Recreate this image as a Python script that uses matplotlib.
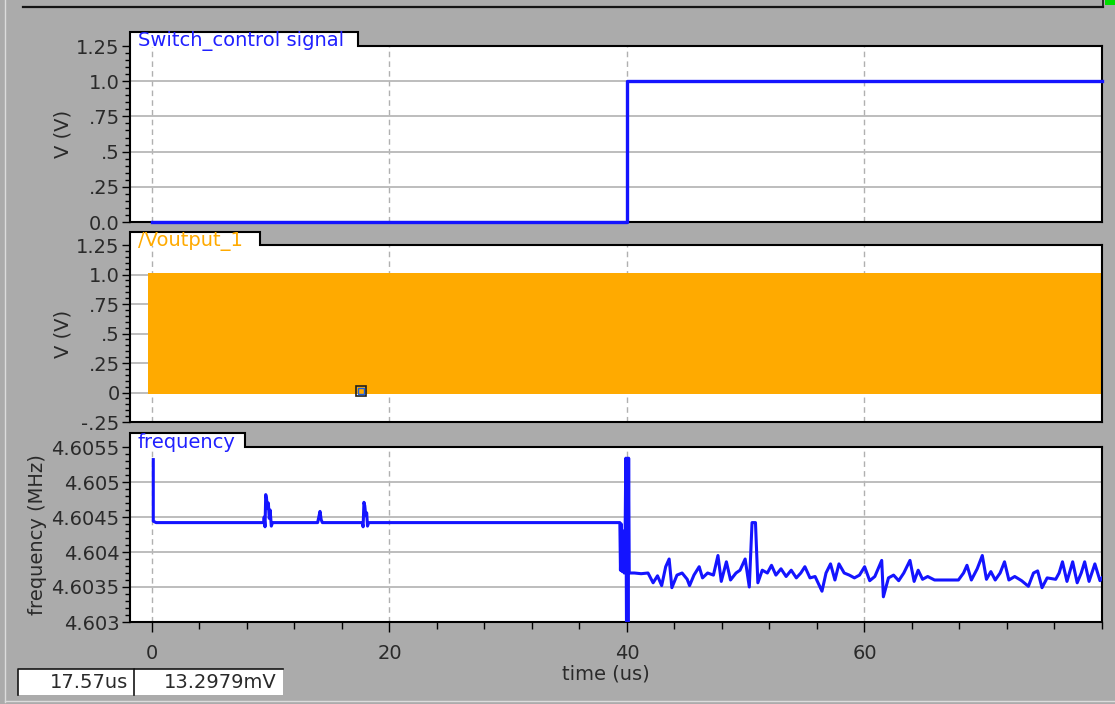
import matplotlib
matplotlib.use('Agg')
import matplotlib.pyplot as plt
from matplotlib.patches import Rectangle
from matplotlib.lines import Line2D
from matplotlib.ticker import MultipleLocator

W, H = 1115, 704

# Switch_control signal (V) vs time (us)
switch_t = [0.0, 40.0, 40.0, 80.0]
switch_v = [0.0, 0.0, 1.0, 1.0]

# /Voutput_1 : square wave too dense to resolve, drawn as its envelope
vout_t = [-0.3, 80.0]
vout_high = [1.015, 1.015]
vout_low = [-0.015, -0.015]

# cursor readout
cursor_t = 17.57
cursor_v = 0.0132979
cursor_labels = ['17.57us', '13.2979mV']

# frequency (MHz) vs time (us)
freq_t = [0.11, 0.11, 0.35, 9.40, 9.45, 9.52, 9.58, 9.65, 9.72, 9.80, 9.88, 9.95, 10.05, 10.15,
          13.95, 14.05, 14.15, 14.25, 14.35, 17.70, 17.78, 17.85, 17.92, 18.00, 18.08, 18.15, 18.25,
          39.40, 39.45, 39.52, 39.60, 39.68, 39.76, 39.84, 39.90, 39.96, 40.02, 40.08, 40.14,
          40.19, 40.62, 41.19, 41.77, 42.20, 42.57, 42.92, 43.26, 43.55, 43.78, 44.21, 44.64,
          45.07, 45.27, 45.64, 46.08, 46.36, 46.79, 47.28, 47.66, 47.94, 48.37, 48.72, 49.18,
          49.52, 49.95, 50.30, 50.53, 50.82, 51.02, 51.39, 51.82, 52.17, 52.54, 52.97, 53.40,
          53.83, 54.26, 54.64, 54.98, 55.41, 55.84, 56.42, 56.76, 57.14, 57.51, 57.85, 58.29,
          58.72, 59.15, 59.58, 60.01, 60.44, 60.87, 61.45, 61.59, 62.02, 62.45, 62.88, 63.31,
          63.83, 64.18, 64.52, 64.89, 65.32, 65.90, 67.91, 68.34, 68.63, 69.00, 69.49, 69.92,
          70.27, 70.64, 71.01, 71.42, 71.79, 72.16, 72.65, 73.23, 73.80, 74.23, 74.58, 74.95,
          75.38, 76.10, 76.39, 76.67, 77.05, 77.53, 77.91, 78.25, 78.54, 78.91, 79.40, 79.83, 80.00]
freq_mhz = [4.60532, 4.60444, 4.60442, 4.60442, 4.60450, 4.60436, 4.60482, 4.60476, 4.60462,
            4.60470, 4.60448, 4.60460, 4.60437, 4.60442,
            4.60442, 4.60450, 4.60458, 4.60446, 4.60442, 4.60442, 4.60436, 4.60471, 4.60466,
            4.60452, 4.60456, 4.60437, 4.60442,
            4.60442, 4.60374, 4.60440, 4.60372, 4.60430, 4.60370, 4.60420, 4.60534, 4.60290,
            4.60534, 4.60290, 4.60534,
            4.60370, 4.60370, 4.60369, 4.60370, 4.60356, 4.60366, 4.60352, 4.60379, 4.60390,
            4.60349, 4.60367, 4.60370, 4.60361, 4.60352, 4.60367, 4.60379, 4.60363, 4.60370,
            4.60367, 4.60395, 4.60358, 4.60386, 4.60360, 4.60370, 4.60374, 4.60390, 4.60350,
            4.60442, 4.60442, 4.60356, 4.60374, 4.60370, 4.60381, 4.60367, 4.60376, 4.60365,
            4.60374, 4.60363, 4.60370, 4.60379, 4.60363, 4.60365, 4.60344, 4.60370, 4.60383,
            4.60360, 4.60383, 4.60370, 4.60367, 4.60363, 4.60367, 4.60379, 4.60359, 4.60365,
            4.60388, 4.60336, 4.60363, 4.60367, 4.60359, 4.60370, 4.60388, 4.60358, 4.60374,
            4.60361, 4.60365, 4.60360, 4.60360, 4.60370, 4.60381, 4.60360, 4.60376, 4.60395,
            4.60361, 4.60372, 4.60360, 4.60370, 4.60386, 4.60360, 4.60365, 4.60359, 4.60351,
            4.60370, 4.60373, 4.60349, 4.60363, 4.60361, 4.60370, 4.60386, 4.60358, 4.60386,
            4.60356, 4.60370, 4.60386, 4.60358, 4.60383, 4.60359, 4.60363]

ticks1 = [0.0, 0.25, 0.5, 0.75, 1.0, 1.25]
ticklabels1 = ['0.0', '.25', '.5', '.75', '1.0', '1.25']
ticks2 = [-0.25, 0.0, 0.25, 0.5, 0.75, 1.0, 1.25]
ticklabels2 = ['-.25', '0', '.25', '.5', '.75', '1.0', '1.25']
ticks3 = [4.603, 4.6035, 4.604, 4.6045, 4.605, 4.6055]
ticklabels3 = ['4.603', '4.6035', '4.604', '4.6045', '4.605', '4.6055']

BG = '#ababab'
BLUE = '#1414ff'
ORANGE = '#ffaa00'
TXT = '#2a2a2a'
FS = 14

plt.rcParams['font.family'] = 'DejaVu Sans'
fig = plt.figure(figsize=(W / 100, H / 100), dpi=100, facecolor=BG)


def fx(x):
    return x / W


def fy(y):
    return 1 - y / H


def make_axes(top, bottom):
    ax = fig.add_axes([fx(130), fy(bottom), (1102 - 130) / W, (bottom - top) / H])
    ax.set_facecolor('white')
    ax.set_xlim(-1.85, 80)
    ax.xaxis.grid(True, ls=(0, (4, 3)), color='#b0b0b0', lw=1)
    ax.yaxis.grid(True, color='#b8b8b8', lw=1.3)
    ax.set_axisbelow(True)
    ax.set_xticks([0, 20, 40, 60])
    ax.tick_params(axis='y', which='major', direction='out', length=6, width=1,
                   labelsize=FS, labelcolor=TXT, pad=1.5)
    ax.tick_params(axis='y', which='minor', direction='out', length=3.5, width=1)
    ax.tick_params(axis='x', length=0, labelbottom=False)
    for s in ax.spines.values():
        s.set_linewidth(1.5)
    ax.spines['top'].set_visible(False)
    return ax


def add_tab(ax, top, bottom, tab_right, tab_h, text, color, text_dy):
    h = bottom - top
    tw = (tab_right - 130) / 972
    th = tab_h / h
    ax.add_patch(Rectangle((0, 0.995), tw, th + 0.005, transform=ax.transAxes,
                           facecolor='white', edgecolor='none', clip_on=False, zorder=5))
    ax.plot([0, 0, tw, tw, 1], [1, 1 + th, 1 + th, 1, 1], transform=ax.transAxes,
            color='black', lw=1.5, clip_on=False, zorder=6, solid_joinstyle='miter')
    ax.text(8 / 972, 1 + text_dy / h, text, transform=ax.transAxes, color=color,
            fontsize=FS, ha='left', va='center', zorder=7)


# panel 1
ax1 = make_axes(46, 222)
ax1.plot(switch_t, switch_v, color=BLUE, lw=2.4, clip_on=False, zorder=3)
ax1.set_ylim(0, 1.25)
ax1.set_yticks(ticks1, ticklabels1)
ax1.yaxis.set_minor_locator(MultipleLocator(0.05))
ax1.set_ylabel('V (V)', fontsize=FS, color=TXT)
ax1.yaxis.set_label_coords(-0.059, 0.5)
add_tab(ax1, 46, 222, 358, 14, 'Switch_control signal', '#2020ff', 5)

# panel 2
ax2 = make_axes(245, 422)
ax2.fill_between(vout_t, vout_low, vout_high, color=ORANGE, lw=0, zorder=2)
ax2.plot([cursor_t], [cursor_v], marker='s', ms=7, mfc='none', mec='#202020', mew=1.2, zorder=4)
ax2.plot([cursor_t], [cursor_v], marker='s', ms=4.5, mfc='none', mec='#2060e0', mew=1.0, zorder=4)
ax2.set_ylim(-0.25, 1.25)
ax2.set_yticks(ticks2, ticklabels2)
ax2.yaxis.set_minor_locator(MultipleLocator(0.05))
ax2.set_ylabel('V (V)', fontsize=FS, color=TXT)
ax2.yaxis.set_label_coords(-0.059, 0.5)
add_tab(ax2, 245, 422, 260, 13, '/Voutput_1', ORANGE, 3.5)

# panel 3
ax3 = make_axes(447, 622)
ax3.plot(freq_t, freq_mhz, color=BLUE, lw=2.2, zorder=3)
ax3.set_ylim(4.603, 4.6055)
ax3.set_yticks(ticks3, ticklabels3)
ax3.yaxis.set_minor_locator(MultipleLocator(0.0001))
ax3.set_ylabel('frequency (MHz)', fontsize=FS, color=TXT)
ax3.yaxis.set_label_coords(-0.0855, 0.5)
ax3.tick_params(axis='x', which='major', length=7, width=1, labelbottom=True,
                labelsize=FS, labelcolor=TXT, pad=9)
ax3.xaxis.set_minor_locator(MultipleLocator(4))
ax3.tick_params(axis='x', which='minor', length=5, width=1)
ax3.set_xlabel('time (us)', fontsize=FS, color=TXT)
ax3.xaxis.set_label_coords(0.49, -0.245)
add_tab(ax3, 447, 622, 245, 14, 'frequency', '#2020ff', 5)

# window decorations
fig.add_artist(Line2D([fx(5), fx(5)], [fy(0), fy(702)], color='#dcdcdc', lw=1))
fig.add_artist(Line2D([fx(5), fx(1115)], [fy(701), fy(701)], color='#dcdcdc', lw=1))
fig.add_artist(Line2D([fx(23), fx(1103)], [fy(7), fy(7)], color='#151515', lw=1.6))
fig.add_artist(Line2D([fx(1103), fx(1103)], [fy(0), fy(7)], color='#151515', lw=1.2))
fig.add_artist(Rectangle((fx(1104.5), fy(5)), fx(10.5), 5 / H, transform=fig.transFigure,
                         facecolor='#00dd00', edgecolor='none'))

# cursor readout boxes
for (x0, x1), label in zip([(18, 134), (134, 283)], cursor_labels):
    fig.add_artist(Rectangle((fx(x0), fy(695)), fx(x1 - x0), 26 / H, transform=fig.transFigure,
                             facecolor='white', edgecolor='none'))
    fig.add_artist(Line2D([fx(x0), fx(x0), fx(x1)], [fy(695), fy(669), fy(669)],
                          color='#151515', lw=1.2))
    fig.text(fx(x1 - 6), fy(682.5), label, fontsize=FS, color=TXT, ha='right', va='center')

plt.savefig('out.png', dpi=100, facecolor=BG)
